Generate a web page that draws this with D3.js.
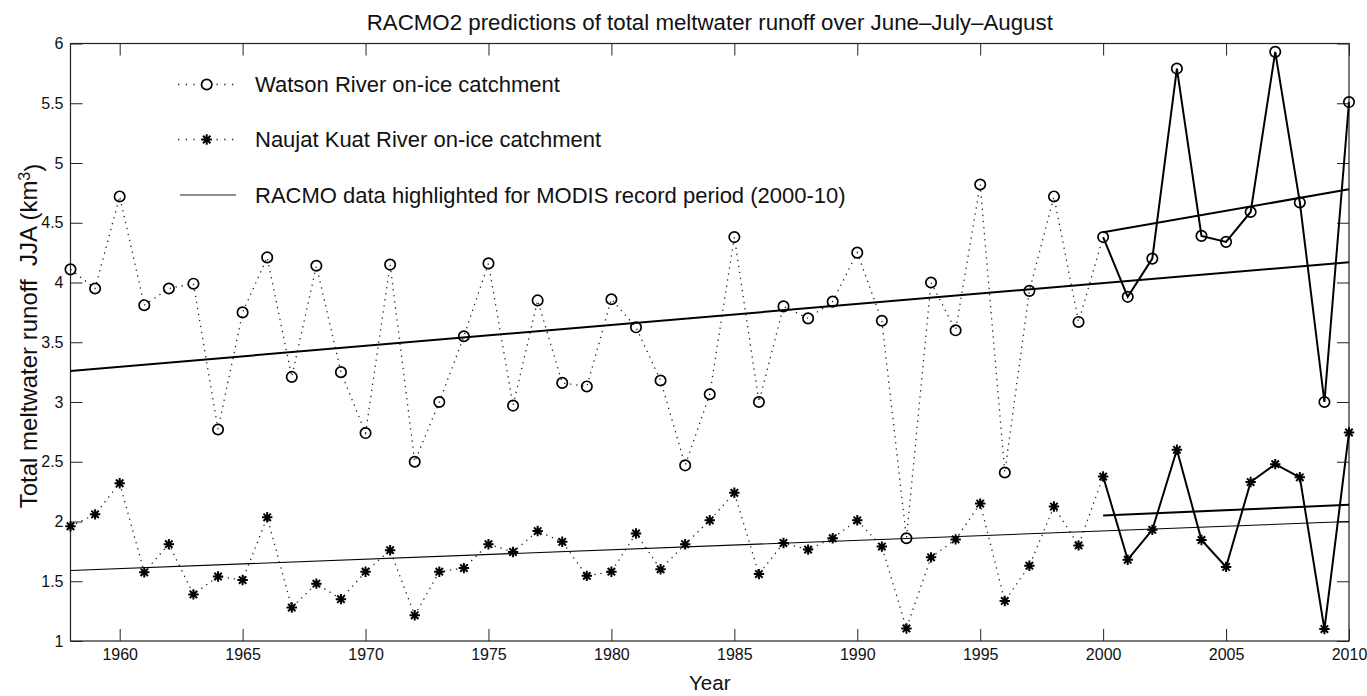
<!DOCTYPE html>
<html>
<head>
<meta charset="utf-8">
<script src="https://cdn.jsdelivr.net/npm/d3@7"></script>
<style>
  html, body { margin: 0; padding: 0; background: #fff; }
  svg { display: block; font-family: "Liberation Sans", Arial, Helvetica, sans-serif; }
</style>
</head>
<body>
<svg id="chart" width="1367" height="696"></svg>
<script>
// ---------------- data ----------------
const years = [1958,1959,1960,1961,1962,1963,1964,1965,1966,1967,
               1968,1969,1970,1971,1972,1973,1974,1975,1976,1977,
               1978,1979,1980,1981,1982,1983,1984,1985,1986,1987,
               1988,1989,1990,1991,1992,1993,1994,1995,1996,1997,
               1998,1999,2000,2001,2002,2003,2004,2005,2006,2007,
               2008,2009,2010];

const watson = [4.11,3.95,4.72,3.81,3.95,3.99,2.77,3.75,4.21,3.21,
                4.14,3.25,2.74,4.15,2.50,3.00,3.55,4.16,2.97,3.85,
                3.16,3.13,3.86,3.625,3.18,2.47,3.065,4.38,3.00,3.80,
                3.70,3.84,4.25,3.68,1.86,4.00,3.60,4.82,2.41,3.93,
                4.72,3.67,4.38,3.88,4.20,5.79,4.39,4.34,4.59,5.93,
                4.67,3.00,5.51];

const naujat = [1.96,2.06,2.32,1.575,1.81,1.39,1.54,1.51,2.035,1.28,
                1.48,1.35,1.58,1.76,1.215,1.58,1.61,1.81,1.745,1.92,
                1.83,1.545,1.58,1.90,1.60,1.81,2.01,2.24,1.56,1.82,
                1.765,1.86,2.01,1.79,1.105,1.70,1.85,2.15,1.335,1.63,
                2.125,1.80,2.376,1.68,1.93,2.60,1.845,1.62,2.33,2.48,
                2.37,1.10,2.745];

// trend lines (end points)
const trendYears = [1958, 2010];
const watsonTrend = [3.26, 4.17];
const naujatTrend = [1.59, 2.00];
const modisYears = [2000, 2010];
const watsonModisTrend = [4.42, 4.78];
const naujatModisTrend = [2.05, 2.14];

const xTicks = [1960,1965,1970,1975,1980,1985,1990,1995,2000,2005,2010];
const yTicks = [1,1.5,2,2.5,3,3.5,4,4.5,5,5.5,6];
const yTickLabels = ["1","1.5","2","2.5","3","3.5","4","4.5","5","5.5","6"];

const titleText = "RACMO2 predictions of total meltwater runoff over June\u2013July\u2013August";
const xLabel = "Year";
const legendLabels = ["Watson River on-ice catchment",
                      "Naujat Kuat River on-ice catchment",
                      "RACMO data highlighted for MODIS record period (2000-10)"];

// ---------------- layout ----------------
const svg = d3.select("#chart");
const L = 70.5, R = 1349, T = 43.5, B = 641;
const x = d3.scaleLinear().domain([1958, 2010]).range([L, R]);
const y = d3.scaleLinear().domain([1, 6]).range([B, T]);
const ink = "#000";
const axisInk = "#222";

// axes
const tl = 12;
const gx = svg.append("g").attr("transform", `translate(0,${B})`)
  .call(d3.axisBottom(x).tickValues(xTicks).tickFormat(d3.format("d"))
        .tickSizeInner(-tl).tickSizeOuter(0).tickPadding(8));
const gxt = svg.append("g").attr("transform", `translate(0,${T})`)
  .call(d3.axisTop(x).tickValues(xTicks).tickFormat("")
        .tickSizeInner(-tl).tickSizeOuter(0));
const gy = svg.append("g").attr("transform", `translate(${L},0)`)
  .call(d3.axisLeft(y).tickValues(yTicks).tickFormat((d,i) => yTickLabels[i])
        .tickSizeInner(-tl).tickSizeOuter(0).tickPadding(7));
const gyr = svg.append("g").attr("transform", `translate(${R},0)`)
  .call(d3.axisRight(y).tickValues(yTicks).tickFormat("")
        .tickSizeInner(-tl).tickSizeOuter(0));
[gx, gxt, gy, gyr].forEach(g => {
  g.attr("font-size", null).attr("font-family", null);
  g.select(".domain").remove();
  g.selectAll("line").attr("stroke", axisInk).attr("stroke-width", 1);
  g.selectAll("text").attr("fill", "#111").style("font-size", "16px")
   .style("font-family", '"Liberation Sans", Arial, sans-serif');
});
svg.append("rect").attr("x", L).attr("y", T).attr("width", R - L).attr("height", B - T)
  .attr("fill", "none").attr("stroke", axisInk).attr("stroke-width", 1.2);

// ---------------- series ----------------
const idx2000 = years.indexOf(2000);
const line = d3.line().x(d => x(d[0])).y(d => y(d[1]));

function series(vals) { return years.map((yr, i) => [yr, vals[i]]); }
const wPts = series(watson), nPts = series(naujat);

// dotted parts 1958-2000
[wPts, nPts].forEach(p => {
  svg.append("path").attr("d", line(p.slice(0, idx2000 + 1)))
    .attr("fill", "none").attr("stroke", "#222").attr("stroke-width", 1.3)
    .attr("stroke-dasharray", "1.3,4.8");
});

// long trends
svg.append("path").attr("d", line(trendYears.map((yr, i) => [yr, watsonTrend[i]])))
  .attr("fill", "none").attr("stroke", ink).attr("stroke-width", 2);
svg.append("path").attr("d", line(trendYears.map((yr, i) => [yr, naujatTrend[i]])))
  .attr("fill", "none").attr("stroke", ink).attr("stroke-width", 1.1);
// MODIS period trends
svg.append("path").attr("d", line(modisYears.map((yr, i) => [yr, watsonModisTrend[i]])))
  .attr("fill", "none").attr("stroke", ink).attr("stroke-width", 2);
svg.append("path").attr("d", line(modisYears.map((yr, i) => [yr, naujatModisTrend[i]])))
  .attr("fill", "none").attr("stroke", ink).attr("stroke-width", 2);

// solid parts 2000-2010
[wPts, nPts].forEach(p => {
  svg.append("path").attr("d", line(p.slice(idx2000)))
    .attr("fill", "none").attr("stroke", ink).attr("stroke-width", 2);
});

// markers
const ast = "M-5.2,0H5.2M0,-5.2V5.2M-3.7,-3.7L3.7,3.7M-3.7,3.7L3.7,-3.7";
svg.append("g").selectAll("circle").data(wPts).join("circle")
  .attr("cx", d => x(d[0])).attr("cy", d => y(d[1])).attr("r", 5.2)
  .attr("fill", "none").attr("stroke", ink).attr("stroke-width", 1.7);
svg.append("g").selectAll("path").data(nPts).join("path")
  .attr("transform", d => `translate(${x(d[0])},${y(d[1])})`)
  .attr("d", ast).attr("fill", "none").attr("stroke", ink).attr("stroke-width", 2);

// ---------------- legend ----------------
const lg = svg.append("g");
const legRows = [84.5, 139.5, 195];
[0, 1].forEach(i => {
  lg.append("line").attr("x1", 178).attr("x2", 236).attr("y1", legRows[i]).attr("y2", legRows[i])
    .attr("stroke", "#222").attr("stroke-width", 1.3).attr("stroke-dasharray", "1.3,6.4");
});
lg.append("circle").attr("cx", 206.7).attr("cy", legRows[0]).attr("r", 5.2)
  .attr("fill", "#fff").attr("stroke", ink).attr("stroke-width", 1.7);
lg.append("path").attr("transform", `translate(206.7,${legRows[1]})`).attr("d", ast)
  .attr("fill", "none").attr("stroke", ink).attr("stroke-width", 2);
lg.append("line").attr("x1", 180).attr("x2", 236).attr("y1", legRows[2]).attr("y2", legRows[2])
  .attr("stroke", "#222").attr("stroke-width", 1.2);
legendLabels.forEach((t, i) => {
  lg.append("text").attr("x", 255).attr("y", legRows[i] + 7.6)
    .style("font-size", "22px").attr("fill", "#111").text(t);
});

// ---------------- titles ----------------
svg.append("text").attr("x", (L + R) / 2).attr("y", 30).attr("text-anchor", "middle")
  .style("font-size", "22.3px").attr("fill", "#111").text(titleText);
svg.append("text").attr("x", (L + R) / 2).attr("y", 690).attr("text-anchor", "middle")
  .style("font-size", "20.5px").attr("fill", "#111").text(xLabel);
const yl = svg.append("text").attr("transform", "translate(37,336) rotate(-90)")
  .attr("text-anchor", "middle").style("font-size", "24px").attr("fill", "#111");
yl.append("tspan").text("Total meltwater runoff\u00a0 JJA (km");
yl.append("tspan").attr("dy", "-0.45em").style("font-size", "16px").text("3");
yl.append("tspan").attr("dy", "0.45em").text(")");
</script>
</body>
</html>
